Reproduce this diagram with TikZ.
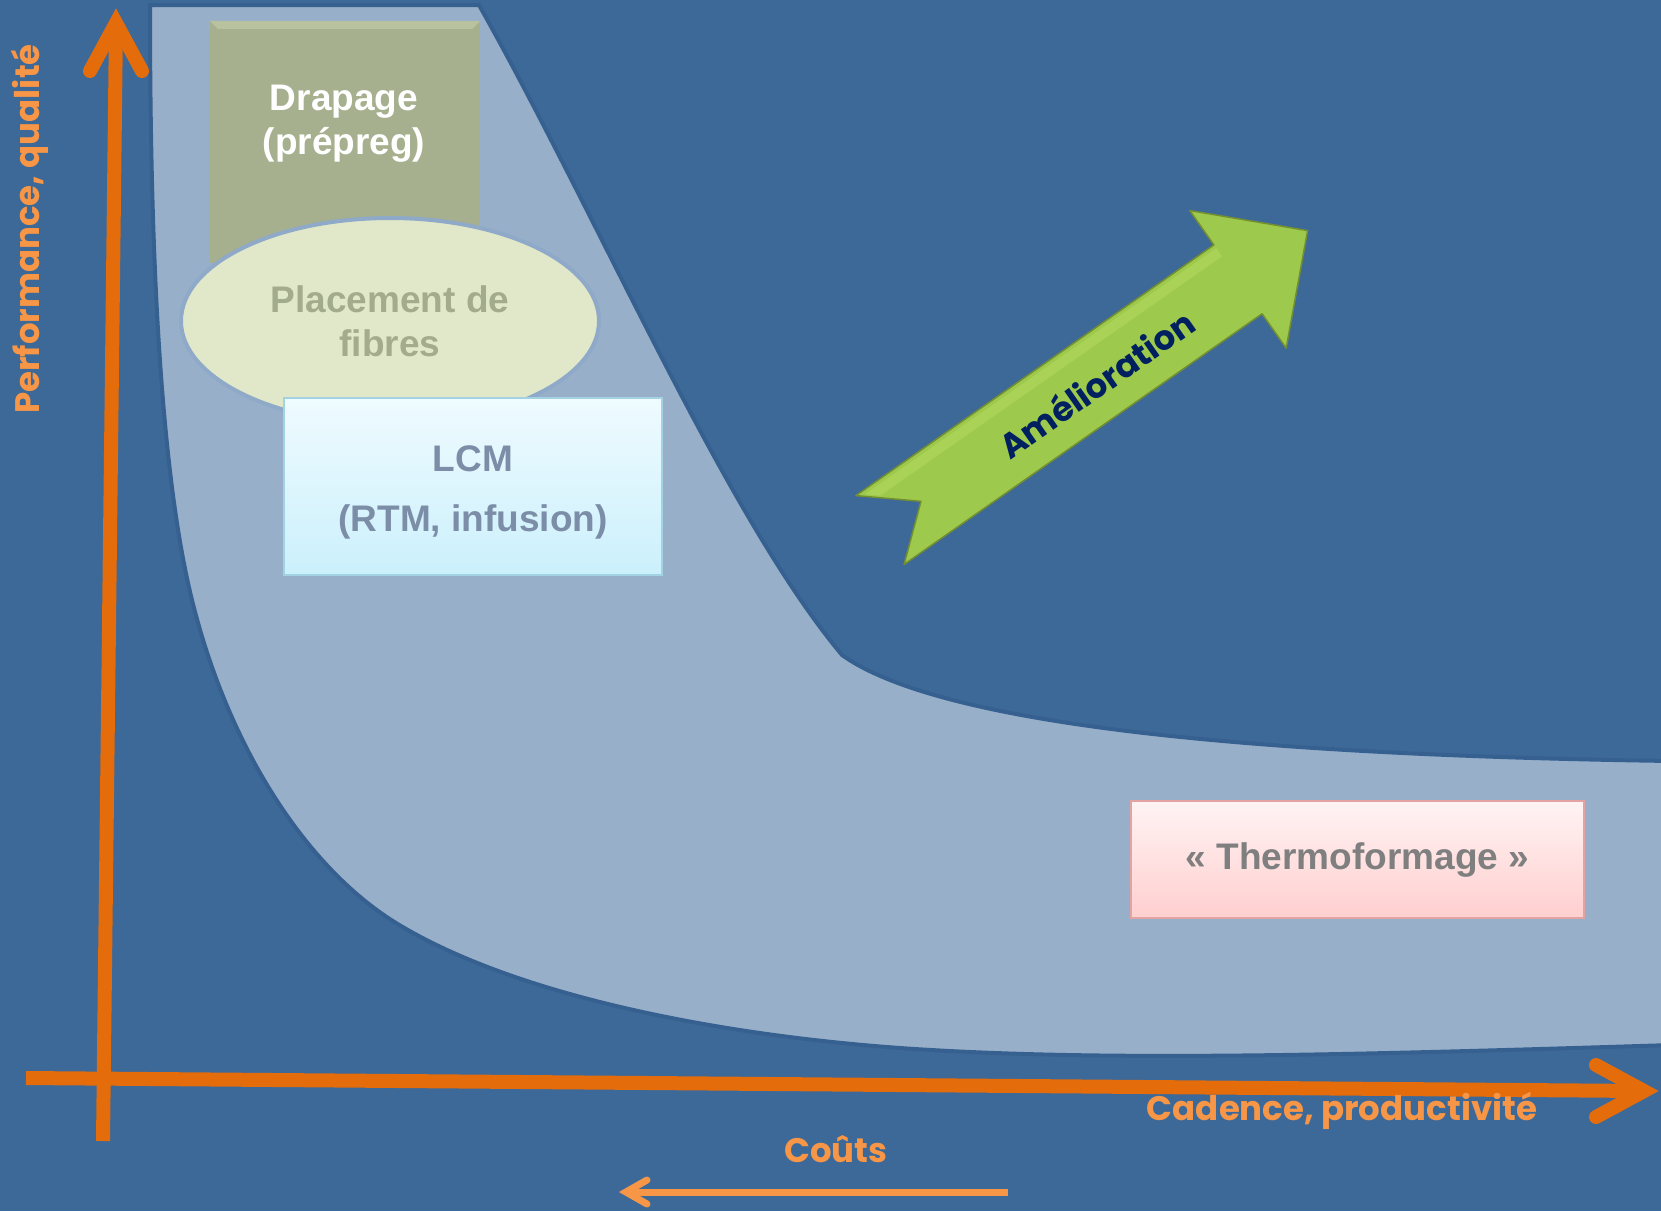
\documentclass[tikz,border=0pt]{standalone}
\usepackage{fontspec}
\setmainfont{Liberation Sans}
\newfontfamily\handfont{Poppins}
\usetikzlibrary{shapes.geometric, calc}

\definecolor{bgblue}{HTML}{3D6999}
\definecolor{bandblue}{HTML}{98AFC9}
\definecolor{bandedge}{HTML}{36608F}
\definecolor{axisorange}{HTML}{E46C0A}
\definecolor{labelorange}{HTML}{F79646}
\definecolor{drapfill}{HTML}{A6B08E}
\definecolor{drapbevel}{HTML}{B9C29F}
\definecolor{fibrefill}{HTML}{E1E8C9}
\definecolor{fibreedge}{HTML}{8FA9C9}
\definecolor{fibretext}{HTML}{A2AB8B}
\definecolor{lcmtop}{HTML}{EFFBFF}
\definecolor{lcmbottom}{HTML}{CBF0FC}
\definecolor{lcmedge}{HTML}{A3D2E2}
\definecolor{lcmtext}{HTML}{7B8DA7}
\definecolor{thermotop}{HTML}{FFF3F3}
\definecolor{thermobottom}{HTML}{FFCFCF}
\definecolor{thermoedge}{HTML}{E3A3A3}
\definecolor{thermotext}{HTML}{7F7F7F}
\definecolor{arrowgreen}{HTML}{9DC94C}
\definecolor{arrowlight}{HTML}{A9D256}
\definecolor{arrowedge}{HTML}{748F30}
\definecolor{arrowtext}{HTML}{002060}

\begin{document}
\begin{tikzpicture}[
    x=1pt, y=-1pt,
    font=\fontsize{37}{44}\selectfont\bfseries,
    axisline/.style={draw=axisorange, line width=14},
    costline/.style={draw=labelorange, line width=7},
    handlabel/.style={font=\handfont\bfseries\fontsize{34}{36}\selectfont, text=labelorange, inner sep=0},
    drapbox/.style={rectangle, fill=drapfill, minimum width=270, minimum height=242, inner sep=0},
    fibres/.style={ellipse, fill=fibrefill, draw=fibreedge, line width=4, minimum width=418, minimum height=206, inner sep=0, align=center, text=fibretext},
    lcmbox/.style={rectangle, top color=lcmtop, bottom color=lcmbottom, draw=lcmedge, line width=2, minimum width=378, minimum height=177},
    thermobox/.style={rectangle, top color=thermotop, bottom color=thermobottom, draw=thermoedge, line width=2, minimum width=453, minimum height=117, text=thermotext},
    greenarrow/.style={fill=arrowgreen, draw=arrowedge, line width=1.5, line join=round}
  ]
  \useasboundingbox (0,0) rectangle (1661,1211);
  \fill[bgblue] (0,0) rectangle (1661,1211);

  % band of processes
  \filldraw[fill=bandblue, draw=bandedge, line width=4]
    (150,5) -- (479,5) .. controls (600,220) and (725,515) .. (842,655)
    .. controls (940,725) and (1250,755) .. (1672,761) -- (1672,1045)
    .. controls (1350,1055) and (1100,1062) .. (900,1048)
    .. controls (720,1035) and (521,997) .. (401,926)
    .. controls (306,870) and (228,746) .. (192,600)
    .. controls (156,455) and (150,200) .. (150,5) -- cycle;

  % processes
  \node[drapbox] (drapage) at (345,142) {};
  \fill[drapbevel] (drapage.north west) -- (drapage.north east) -- ++(-8,8) -- ($(drapage.north west)+(8,8)$) -- cycle;
  \node[text=white, align=center] (drapagetxt) at (344,124) {Drapage\\(prépreg)};
  \node[fibres] (fibres) at (390,321) {Placement de\\fibres};
  \node[lcmbox] (lcm) at (473,486.5) {};
  \node[text=lcmtext, align=center] (lcmtxt) at (473,492) {LCM\\[16pt](RTM, infusion)};
  \node[thermobox] (thermo) at (1357.5,859.5) {« Thermoformage »};

  % axes
  \coordinate (yfoot) at (103,1141);
  \coordinate (ytip) at (116,23);
  \draw[axisline] (yfoot) -- (ytip);
  \draw[axisline, line cap=round] ($(ytip)+(-26,48)$) -- (ytip) -- ($(ytip)+(26,48)$);
  \coordinate (xfoot) at (26,1078);
  \coordinate (xtip) at (1644,1091);
  \draw[axisline] (xfoot) -- (xtip);
  \draw[axisline, line cap=round] ($(xtip)+(-48,-26)$) -- (xtip) -- ($(xtip)+(-48,26)$);

  \node[handlabel, rotate=90] (perflabel) at (30,229) {Performance, qualité};
  \node[handlabel] (cadlabel) at (1342,1111) {Cadence, productivité};
  \node[handlabel] (coutslabel) at (836,1149) {Coûts};

  % costs arrow
  \coordinate (cstart) at (1008,1192);
  \coordinate (ctip) at (626,1192);
  \draw[costline] (cstart) -- (ctip);
  \draw[costline, line cap=round] ($(ctip)+(21,-12)$) -- (ctip) -- ($(ctip)+(21,12)$);

  % improvement arrow
  \begin{scope}[shift={(880,530)}, rotate=35]
    \filldraw[greenarrow] (0,-42) -- (50,0) -- (0,42) -- (437,42) -- (437,84)
      -- (522,0) -- (437,-84) -- (437,-42) -- cycle;
    \fill[arrowlight] (8,-38) -- (437,-38) -- (437,-28) -- (20,-28) -- cycle;
    \node[handlabel, text=arrowtext, rotate=35] (amelioration) at (261,4) {Amélioration};
  \end{scope}
\end{tikzpicture}
\end{document}
